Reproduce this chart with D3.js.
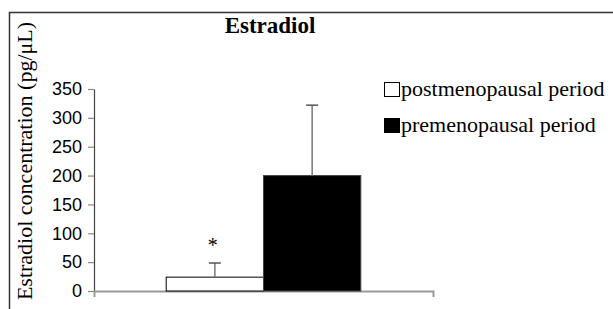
<!DOCTYPE html>
<html>
<head>
<meta charset="utf-8">
<script src="https://cdn.jsdelivr.net/npm/d3@7"></script>
<style>
  body { margin: 0; background: #fff; }
  svg { display: block; }
</style>
</head>
<body>
<div id="container"></div>
<script>
/* DATA */
const groups = ['Estradiol'];
const series = ['postmenopausal period', 'premenopausal period'];
const means = [24, 200];
const errors = [24.5, 122];
const yTicks = [0, 50, 100, 150, 200, 250, 300, 350];
const colors = ['#ffffff', '#000000'];

/* CONSTANTS */
const width = 613;
const height = 309;

const svg = d3.select('#container')
  .append('svg')
  .attr('width', width)
  .attr('height', height);

// outer frame (bottom and right run off the picture)
svg.append('rect')
  .attr('x', 9.5).attr('y', 12.5)
  .attr('width', 620).attr('height', 320)
  .attr('fill', 'none')
  .attr('stroke', '#333')
  .attr('stroke-width', 1.5);

/* SCALES */
const yScale = d3.scaleLinear()
  .domain([0, 350])
  .range([291, 89]);

const x0 = d3.scaleBand()
  .domain(groups)
  .range([94, 433])
  .paddingInner(0)
  .paddingOuter(0.371);

const x1 = d3.scaleBand()
  .domain(series)
  .range([0, x0.bandwidth()])
  .padding(0);

/* AXES */
const yAxis = d3.axisLeft(yScale)
  .tickValues(yTicks)
  .tickSizeInner(6)
  .tickSizeOuter(0)
  .tickPadding(6);

const gy = svg.append('g')
  .attr('transform', 'translate(94,0)')
  .call(yAxis);
gy.select('.domain').attr('stroke', '#444').attr('stroke-width', 1.2);
gy.selectAll('.tick line').attr('stroke', '#888').attr('stroke-width', 1.2);
gy.selectAll('.tick text')
  .attr('fill', '#000')
  .style('font-family', 'Arial, "Liberation Sans", sans-serif')
  .style('font-size', '18px');

const xAxis = d3.axisBottom(x0)
  .tickSizeInner(0)
  .tickSizeOuter(6)
  .tickFormat('');

const gx = svg.append('g')
  .attr('transform', 'translate(0,291)')
  .call(xAxis);
gx.select('.domain').attr('stroke', '#999').attr('stroke-width', 2);

/* BARS */
const bars = svg.append('g');
groups.forEach(g => {
  series.forEach((s, i) => {
    const bx = x0(g) + x1(s);
    bars.append('rect')
      .attr('x', bx)
      .attr('y', yScale(means[i]))
      .attr('width', x1.bandwidth())
      .attr('height', yScale(0) - yScale(means[i]))
      .attr('fill', colors[i])
      .attr('stroke', i === 0 ? '#000' : '#444')
      .attr('stroke-width', 1);

    // one-sided error bar
    const cx = bx + x1.bandwidth() / 2;
    bars.append('line')
      .attr('x1', cx).attr('x2', cx)
      .attr('y1', yScale(means[i]))
      .attr('y2', yScale(means[i] + errors[i]))
      .attr('stroke', '#777')
      .attr('stroke-width', 1.5);
    bars.append('line')
      .attr('x1', cx - 6).attr('x2', cx + 6)
      .attr('y1', yScale(means[i] + errors[i]))
      .attr('y2', yScale(means[i] + errors[i]))
      .attr('stroke', '#555')
      .attr('stroke-width', 1.5);

    if (i === 0) {
      bars.append('text')
        .attr('x', cx - 2)
        .attr('y', yScale(means[i] + errors[i]) - 11)
        .attr('text-anchor', 'middle')
        .style('font-family', '"Times New Roman", "Liberation Serif", serif')
        .style('font-size', '20px')
        .text('*');
    }
  });
});

/* TITLE */
svg.append('text')
  .attr('x', 270)
  .attr('y', 33)
  .attr('text-anchor', 'middle')
  .style('font-family', '"Times New Roman", "Liberation Serif", serif')
  .style('font-weight', 'bold')
  .style('font-size', '23px')
  .text('Estradiol');

/* Y LABEL */
svg.append('text')
  .attr('transform', 'translate(32,161) rotate(-90)')
  .attr('text-anchor', 'middle')
  .style('font-family', '"Times New Roman", "Liberation Serif", serif')
  .style('font-size', '22px')
  .text('Estradiol concentration (pg/\u03bcL)');

/* LEGEND */
const legend = svg.append('g');
series.forEach((s, i) => {
  const ly = 82 + i * 36;
  legend.append('rect')
    .attr('x', 384.5).attr('y', ly + 0.5)
    .attr('width', 15).attr('height', 14)
    .attr('fill', colors[i])
    .attr('stroke', '#000')
    .attr('stroke-width', 1);
  legend.append('text')
    .attr('x', 401)
    .attr('y', ly + 14)
    .style('font-family', '"Times New Roman", "Liberation Serif", serif')
    .style('font-size', '22px')
    .text(s);
});
</script>
</body>
</html>
